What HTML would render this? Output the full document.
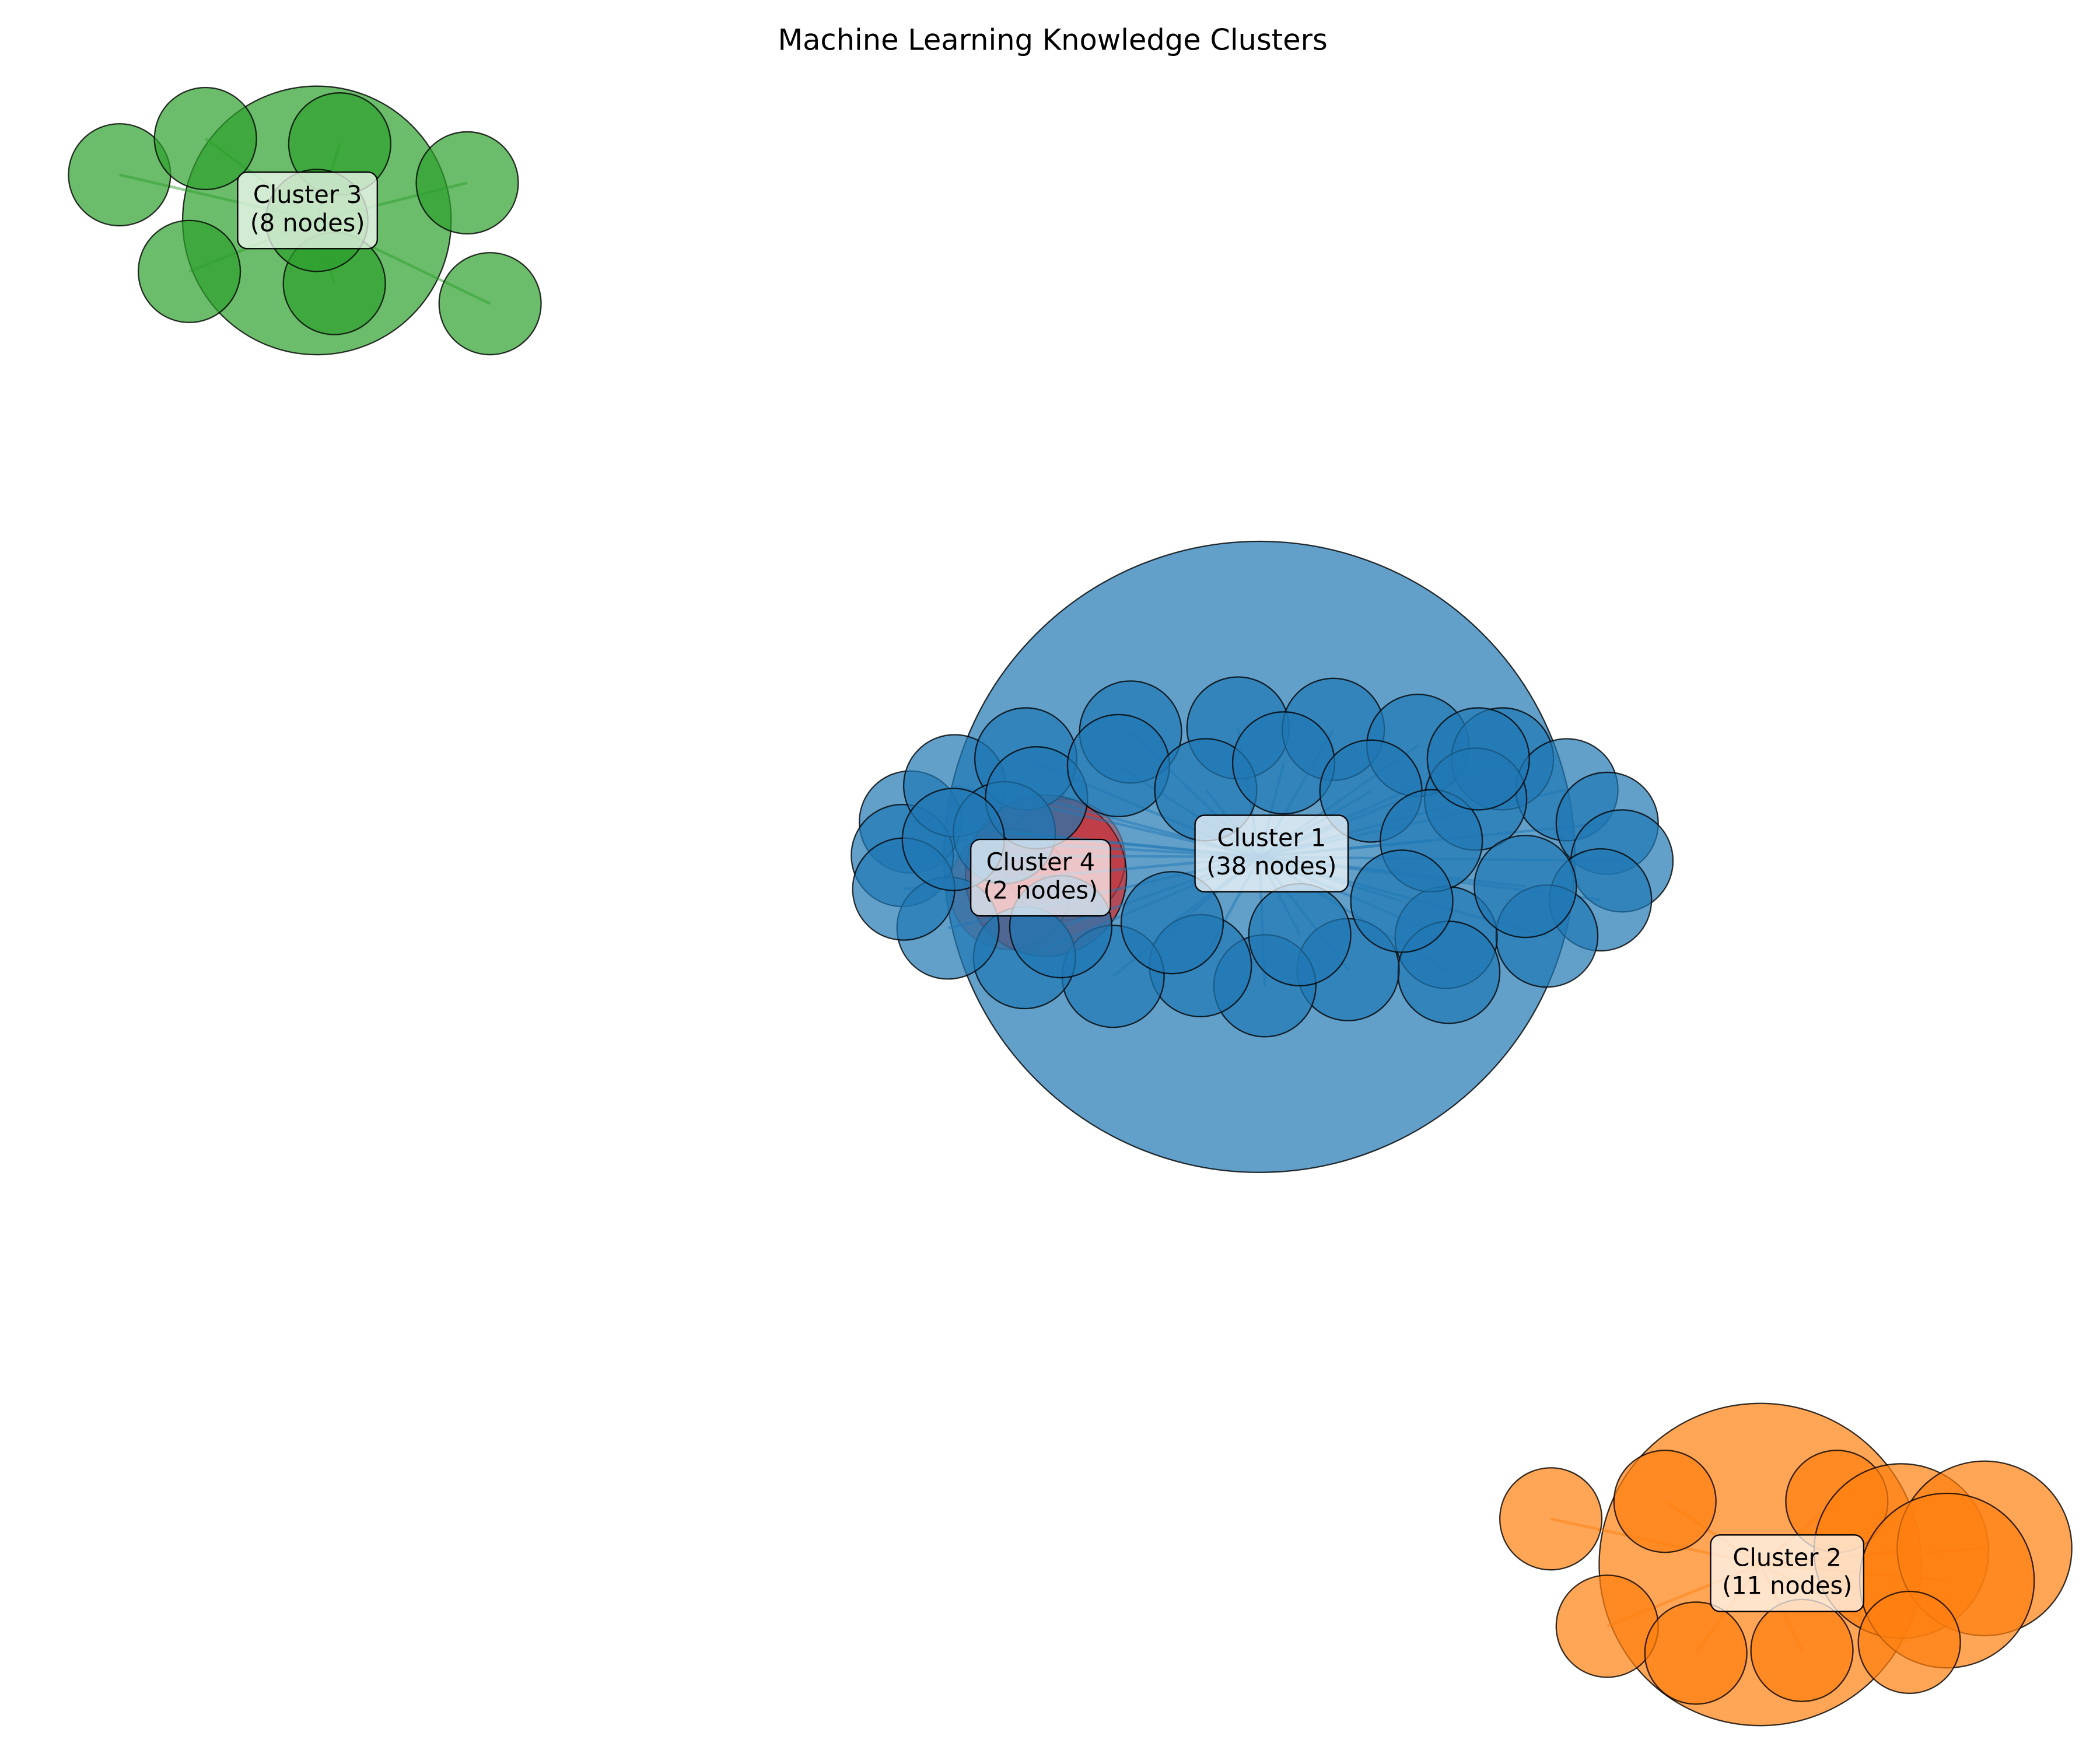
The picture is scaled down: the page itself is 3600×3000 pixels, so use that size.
<!DOCTYPE html>
<html><head><meta charset="utf-8"><style>
html,body{margin:0;padding:0;background:#fff;}
svg{display:block;}
text{font-family:"DejaVu Sans","Liberation Sans",sans-serif;}
</style></head><body>
<svg id="chart" width="3600" height="3000" viewBox="0 0 1564 1303" xmlns="http://www.w3.org/2000/svg">
<rect width="1564" height="1303" fill="#fff"/>
<text x="784" y="37" text-anchor="middle" font-size="21.5" fill="#000">Machine Learning Knowledge Clusters</text>
<g id="layer"></g>
</svg>
<script>
const clusterNames = ["Cluster 1","Cluster 2","Cluster 3","Cluster 4"];
const clusterCounts = [38, 11, 8, 2];
const clusterColors = ["#1f77b4","#ff7f0e","#2ca02c","#d62728"];
const clusterCenters = [[938,638],[1311,1165],[236,164],[779,652]];
const clusterRadii = [235,120,100,60];
const labelPos = [[947,637],[1331,1173],[229,158],[775,655]];
const nodes1 = [[678,612],[672,637],[711,585],[764,565],[842,545],[922,542],[993,543],[1056,555],[1119,565],[1167,588],[1197,613],[1208,641],[1192,670],[1152,697],[1077,698],[1079,724],[1004,722],[942,734],[968,696],[894,719],[829,727],[763,713],[706,691],[673,662],[748,620],[772,594],[833,570],[898,588],[956,568],[1021,589],[1099,595],[1066,626],[1136,660],[1044,671],[873,687],[790,690],[710,625],[1101,565]];
const nodes2 = [[1155,1131,38],[1240,1118,38],[1368,1118,38],[1416,1155,65],[1478,1153,65],[1450,1177,65],[1197,1211,38],[1263,1231,38],[1342,1229,38],[1422,1223,38]];
const nodes3 = [[89,130],[153,103],[253,107],[348,136],[141,202],[249,211],[365,226],[236,164]];
const nodes4 = [[793,640,45],[752,662,45]];
const NS="http://www.w3.org/2000/svg";
const layer=document.getElementById('layer');
function mk(t,a){const e=document.createElementNS(NS,t);for(const k in a)e.setAttribute(k,a[k]);layer.appendChild(e);return e;}
const nodeSets=[nodes1.map(p=>[p[0],p[1],38]),nodes2,nodes3.map(p=>[p[0],p[1],38]),nodes4];
function drawBg(ci){
  const c=clusterCenters[ci];
  const bg=mk('circle',{cx:c[0],cy:c[1],r:clusterRadii[ci],fill:clusterColors[ci],'fill-opacity':0.7,stroke:'#000','stroke-opacity':0.8,'stroke-width':1});
  
  
}
function drawNodes(ci,op){
  const c=clusterCenters[ci],col=clusterColors[ci];
  nodeSets[ci].forEach(n=>{
    const ln=mk('line',{x1:c[0],y1:c[1],x2:n[0],y2:n[1],stroke:col,'stroke-opacity':0.5,'stroke-width':2});
    
    
  });
  nodeSets[ci].forEach(n=>{
    const e=mk('circle',{cx:n[0],cy:n[1],r:n[2],fill:col,'fill-opacity':op,stroke:'#000','stroke-opacity':op===0.7?0.8:0.3,'stroke-width':1});
    
    
  });
}
drawBg(0);
drawBg(3);
drawNodes(3,0.35);
drawNodes(0,0.7);
drawBg(2);drawNodes(2,0.7);
drawBg(1);drawNodes(1,0.7);
[0,1,2,3].forEach(ci=>{
  const p=labelPos[ci];
  const g=document.createElementNS(NS,'g');layer.appendChild(g);
  
  
  const l1=clusterNames[ci], l2='('+clusterCounts[ci]+' nodes)';
  const w=Math.max(l1.length,l2.length)*10+14;
  const r=document.createElementNS(NS,'rect');
  r.setAttribute('x',p[0]-w/2);r.setAttribute('y',p[1]-30);r.setAttribute('width',w);r.setAttribute('height',57);
  r.setAttribute('rx',7);r.setAttribute('fill','#fff');r.setAttribute('fill-opacity',0.7);r.setAttribute('stroke','#000');r.setAttribute('stroke-width',1);
  g.appendChild(r);
  [l1,l2].forEach((s,k)=>{const t=document.createElementNS(NS,'text');t.setAttribute('x',p[0]);t.setAttribute('y',p[1]-7+k*21);t.setAttribute('text-anchor','middle');t.setAttribute('font-size',18);t.textContent=s;g.appendChild(t);});
});
</script>
</body></html>
